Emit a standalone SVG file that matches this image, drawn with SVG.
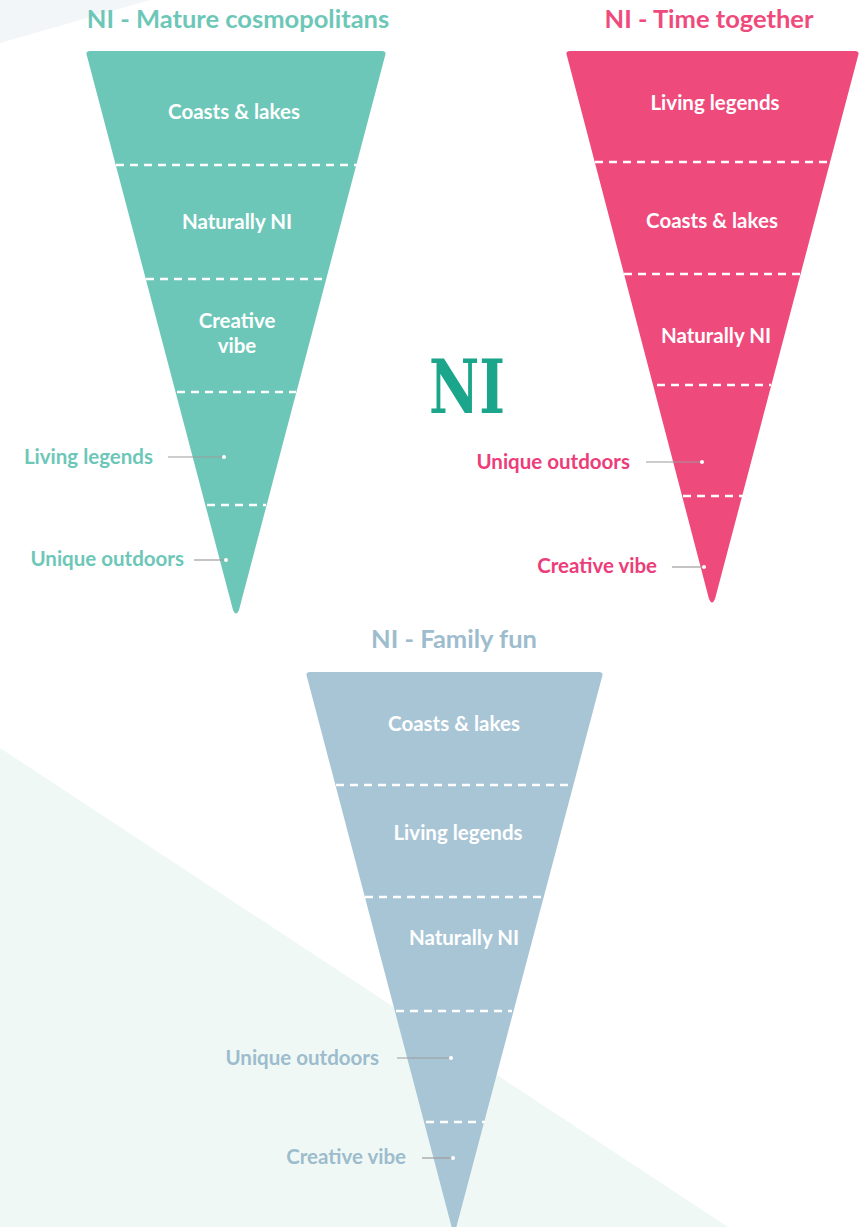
<svg xmlns="http://www.w3.org/2000/svg" width="868" height="1227" viewBox="0 0 868 1227">
<defs>
<style>
.t{font-family:Lato,"Open Sans",sans-serif;font-weight:700;text-anchor:middle}
.in{fill:#ffffff;font-size:20.5px}
.out{font-size:20.5px;text-anchor:end}
.title{font-size:25.5px}
.dash{stroke:#ffffff;stroke-width:2.5;stroke-dasharray:8 6;fill:none}
.lead{stroke:#9c9c9c;stroke-width:1.2;fill:none}
.dot{fill:#ffffff}
</style>
</defs>
<rect width="868" height="1227" fill="#ffffff"/>
<polygon points="0,0 150,0 0,43" fill="#f2f6f9"/>
<polygon points="0,748 728,1227 0,1227" fill="#eff8f5"/>

<g id="title-ni"><text x="467" y="413" font-family="'DejaVu Serif',serif" font-weight="700" font-size="74" fill="#1ba58a" text-anchor="middle" textLength="76" lengthAdjust="spacingAndGlyphs">NI</text></g>

<g id="funnel-mature">
<text class="t title" x="238" y="28" fill="#6dc7b8">NI - Mature cosmopolitans</text>
<path d="M90,51 L382,51 Q387,51 385,56 L239,610 Q236,617 233,610 L87,56 Q85,51 90,51 Z" fill="#6dc7b8"/>
<line class="dash" x1="116" y1="165" x2="357" y2="165"/>
<line class="dash" x1="146" y1="279" x2="327" y2="279"/>
<line class="dash" x1="177" y1="392" x2="296" y2="392"/>
<line class="dash" x1="207" y1="505" x2="266" y2="505"/>
<text class="t in" x="234" y="119">Coasts &amp; lakes</text>
<text class="t in" x="237" y="229">Naturally NI</text>
<text class="t in" x="237" y="328">Creative</text>
<text class="t in" x="237" y="353">vibe</text>
<text class="t out" x="153" y="464" fill="#6dc7b8">Living legends</text>
<text class="t out" x="184" y="566" fill="#6dc7b8">Unique outdoors</text>
</g>

<g id="funnel-time">
<text class="t title" x="709" y="28" fill="#ef4a7c">NI - Time together</text>
<path d="M570,51 L855,51 Q860,51 858,56 L715,599 Q712,606 709,599 L567,56 Q565,51 570,51 Z" fill="#ef4a7c"/>
<line class="dash" x1="595" y1="162" x2="832" y2="162"/>
<line class="dash" x1="624" y1="274" x2="803" y2="274"/>
<line class="dash" x1="657" y1="385" x2="771" y2="385"/>
<line class="dash" x1="683" y1="496" x2="745" y2="496"/>
<text class="t in" x="715" y="110">Living legends</text>
<text class="t in" x="712" y="228">Coasts &amp; lakes</text>
<text class="t in" x="716" y="343">Naturally NI</text>
<text class="t out" x="630" y="469" fill="#ec3d7a">Unique outdoors</text>
<text class="t out" x="657" y="573" fill="#ec3d7a">Creative vibe</text>
</g>

<g id="funnel-family">
<text class="t title" x="454" y="648" fill="#9dbccd">NI - Family fun</text>
<path d="M310,672 L599,672 Q604,672 602,677 L454,1236 L307,677 Q305,672 310,672 Z" fill="#a8c5d6"/>
<line class="dash" x1="336" y1="785" x2="575" y2="785"/>
<line class="dash" x1="365" y1="897" x2="545" y2="897"/>
<line class="dash" x1="396" y1="1011" x2="512" y2="1011"/>
<line class="dash" x1="426" y1="1122" x2="485" y2="1122"/>
<text class="t in" x="454" y="731">Coasts &amp; lakes</text>
<text class="t in" x="458" y="840">Living legends</text>
<text class="t in" x="464" y="945">Naturally NI</text>
<text class="t out" x="379" y="1065" fill="#9dbccd">Unique outdoors</text>
<text class="t out" x="406" y="1164" fill="#9dbccd">Creative vibe</text>
</g>

<g id="connectors">
<line class="lead" x1="168" y1="457" x2="224" y2="457"/><circle class="dot" cx="224" cy="457" r="2"/>
<line class="lead" x1="194" y1="560" x2="226" y2="560"/><circle class="dot" cx="226" cy="560" r="2"/>
<line class="lead" x1="646" y1="462" x2="702" y2="462"/><circle class="dot" cx="702" cy="462" r="2"/>
<line class="lead" x1="672" y1="567" x2="704" y2="567"/><circle class="dot" cx="704" cy="567" r="2"/>
<line class="lead" x1="397" y1="1058" x2="451" y2="1058"/><circle class="dot" cx="451" cy="1058" r="2"/>
<line class="lead" x1="422" y1="1158" x2="453" y2="1158"/><circle class="dot" cx="453" cy="1158" r="2"/>
</g>
</svg>
